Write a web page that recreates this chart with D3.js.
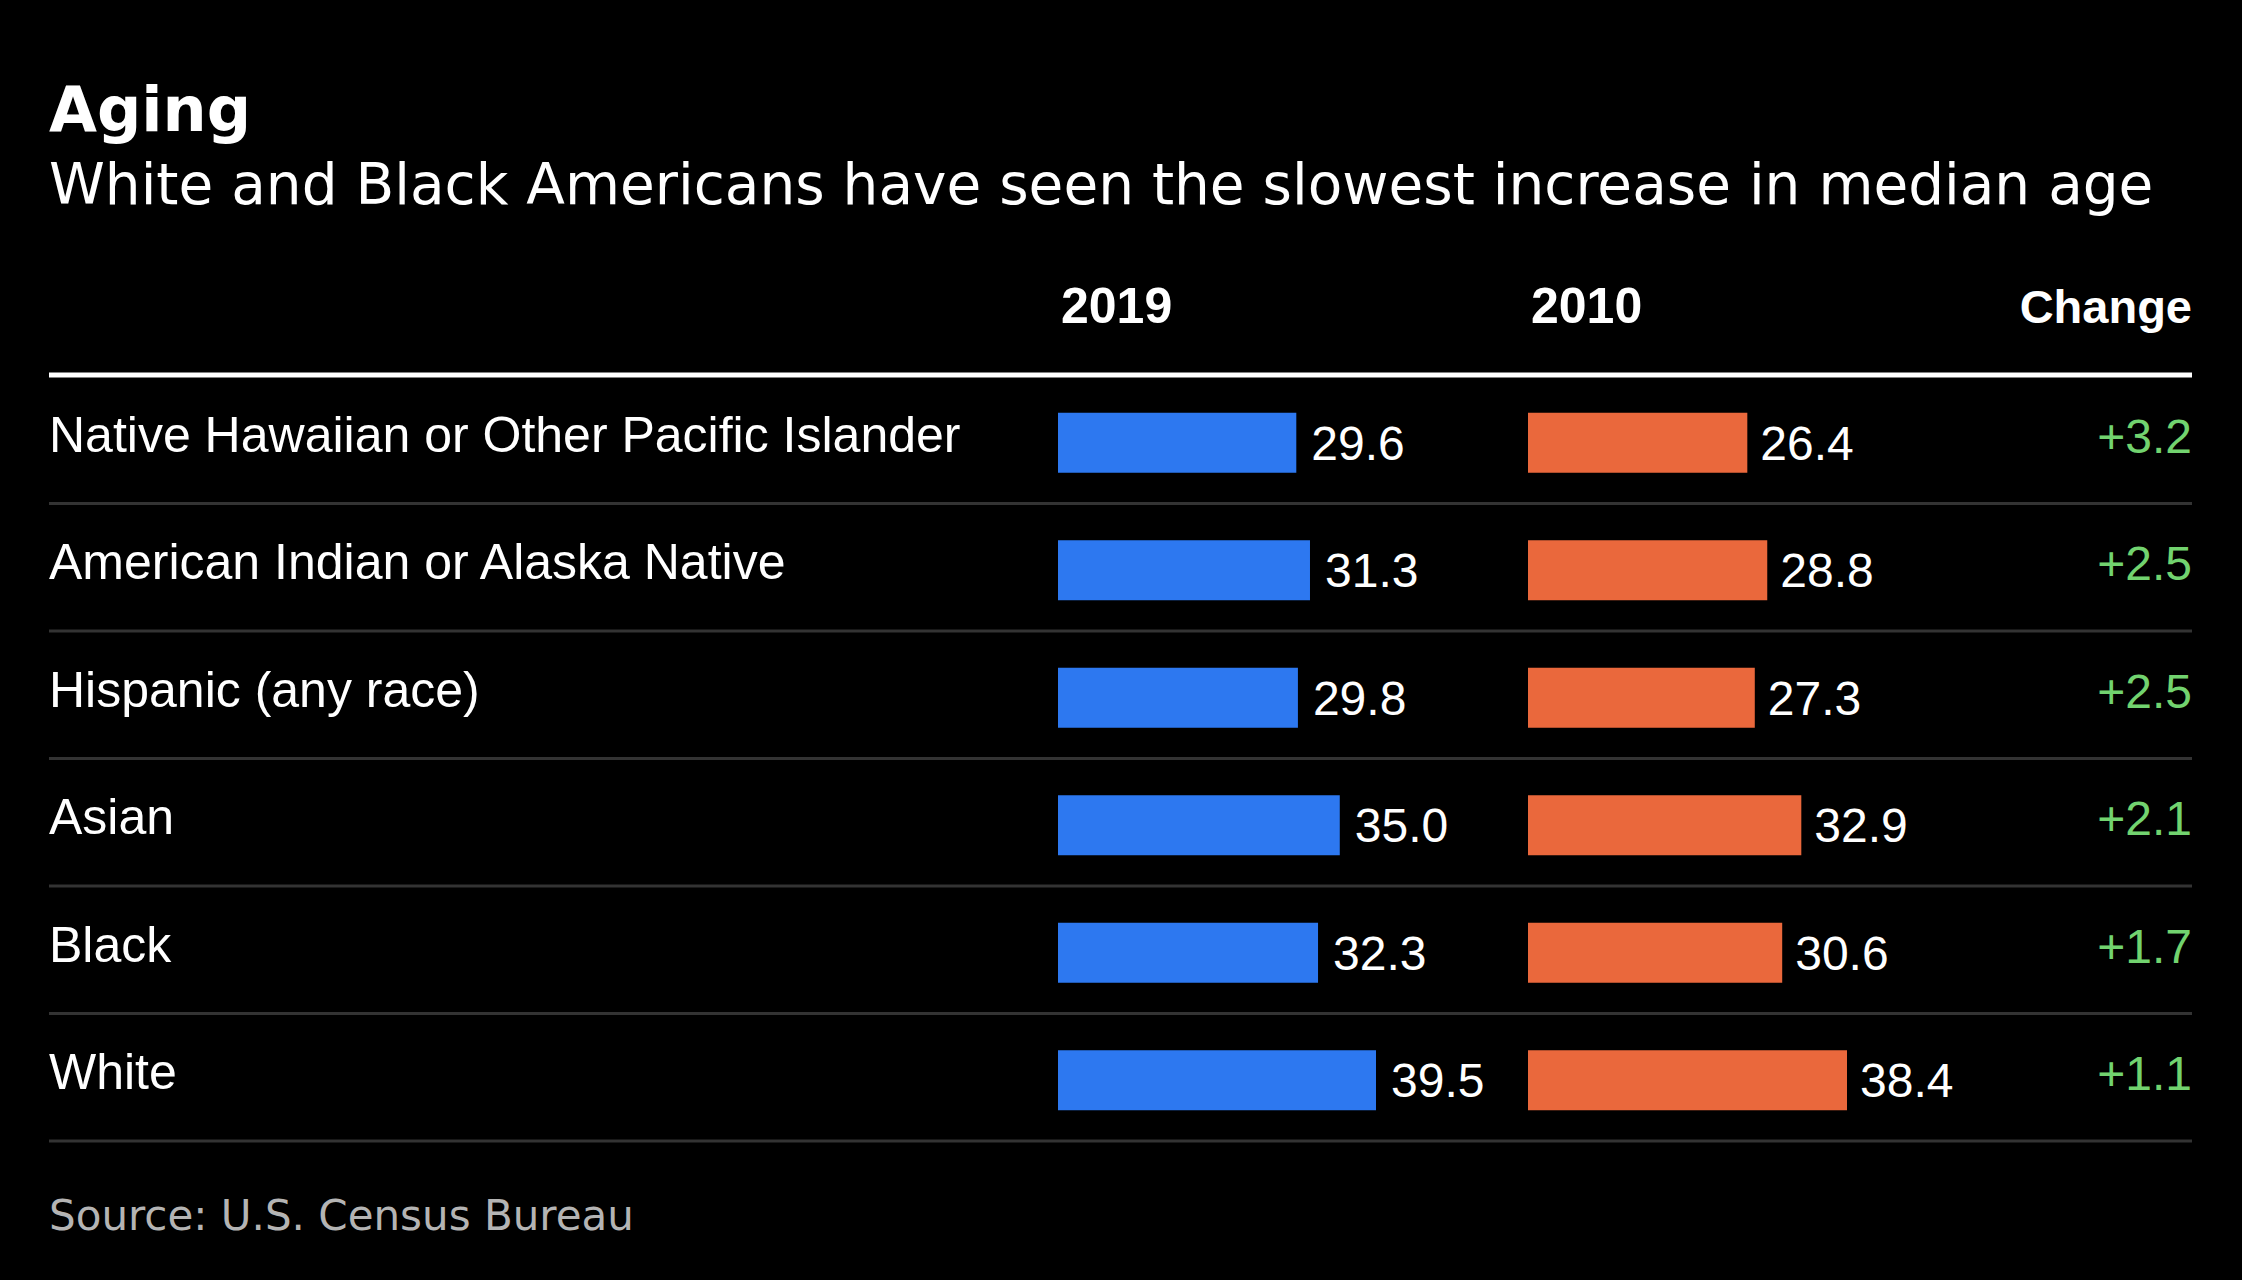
<!DOCTYPE html>
<html><head><meta charset="utf-8">
<script src="https://cdn.jsdelivr.net/npm/d3@7"></script>
<style>html,body{margin:0;padding:0;background:#000;}</style>
</head><body>
<svg id="c" width="2242" height="1280"></svg>
<script>
const categories = ["Native Hawaiian or Other Pacific Islander","American Indian or Alaska Native","Hispanic (any race)","Asian","Black","White"];
const values2019 = [29.6, 31.3, 29.8, 35.0, 32.3, 39.5];
const values2010 = [26.4, 28.8, 27.3, 32.9, 30.6, 38.4];
const changes = ["+3.2","+2.5","+2.5","+2.1","+1.7","+1.1"];
const columnHeaders = ["2019","2010","Change"];

const W = 2242, H = 1280;
const left = 49, right = 2192;
const svg = d3.select("#c");
svg.append("rect").attr("width",W).attr("height",H).attr("fill","#000");

const sans = "'Liberation Sans', Arial, Helvetica, sans-serif";
const verd = "'DejaVu Sans', Verdana, sans-serif";

function fitText(sel, target) {
  const fs = +sel.attr("font-size");
  const w = sel.node().getComputedTextLength();
  if (w > 0) sel.attr("font-size", fs * target / w);
}

svg.append("text").attr("x",left).attr("y",131).text("Aging")
  .attr("fill","#fff").attr("font-family",verd).attr("font-weight","bold").attr("font-size",62);
const sub = svg.append("text").attr("x",left).attr("y",204).text("White and Black Americans have seen the slowest increase in median age")
  .attr("fill","#fff").attr("font-family",verd).attr("font-size",60);
fitText(sub, 2105);

const col2019 = 1058, col2010 = 1528;
const x2019 = d3.scaleLinear().domain([0, d3.max(values2019)]).range([0, 318]);
const x2010 = d3.scaleLinear().domain([0, d3.max(values2010)]).range([0, 319]);
const y = d3.scaleBand().domain(categories).range([376,1141]);

// headers
svg.append("text").attr("x",col2019+3).attr("y",323).text(columnHeaders[0])
  .attr("fill","#fff").attr("font-family",sans).attr("font-weight","bold").attr("font-size",50);
svg.append("text").attr("x",col2010+3).attr("y",323).text(columnHeaders[1])
  .attr("fill","#fff").attr("font-family",sans).attr("font-weight","bold").attr("font-size",50);
svg.append("text").attr("x",right).attr("y",323).attr("text-anchor","end").text(columnHeaders[2])
  .attr("fill","#fff").attr("font-family",sans).attr("font-weight","bold").attr("font-size",47);

svg.append("line").attr("x1",left).attr("x2",right).attr("y1",375).attr("y2",375)
  .attr("stroke","#fff").attr("stroke-width",5);

const rows = svg.selectAll("g.row").data(categories).join("g").attr("class","row")
  .attr("transform", d => `translate(0,${y(d) + y.bandwidth()/2})`);

rows.append("line").attr("x1",left).attr("x2",right)
  .attr("y1", y.bandwidth()/2).attr("y2", y.bandwidth()/2)
  .attr("stroke","#333").attr("stroke-width",3);

rows.append("text").attr("x",left).attr("y",12).text(d=>d)
  .attr("fill","#fff").attr("font-family",sans).attr("font-size",50);

rows.append("rect").attr("x",col2019).attr("y",-27).attr("height",60)
  .attr("width",(d,i)=>x2019(values2019[i])).attr("fill","#2d78f0");
rows.append("text").attr("x",(d,i)=>col2019 + x2019(values2019[i]) + 15).attr("y",20)
  .text((d,i)=>values2019[i].toFixed(1))
  .attr("fill","#fff").attr("font-family",sans).attr("font-size",48);

rows.append("rect").attr("x",col2010).attr("y",-27).attr("height",60)
  .attr("width",(d,i)=>x2010(values2010[i])).attr("fill","#ea683c");
rows.append("text").attr("x",(d,i)=>col2010 + x2010(values2010[i]) + 13).attr("y",20)
  .text((d,i)=>values2010[i].toFixed(1))
  .attr("fill","#fff").attr("font-family",sans).attr("font-size",48);

rows.append("text").attr("x",right).attr("y",13).attr("text-anchor","end")
  .text((d,i)=>changes[i])
  .attr("fill","#72d36f").attr("font-family",sans).attr("font-size",48);

const src = svg.append("text").attr("x",left).attr("y",1230).text("Source: U.S. Census Bureau")
  .attr("fill","#b4b4b4").attr("font-family",verd).attr("font-size",43);
fitText(src, 585);
</script>
</body></html>
